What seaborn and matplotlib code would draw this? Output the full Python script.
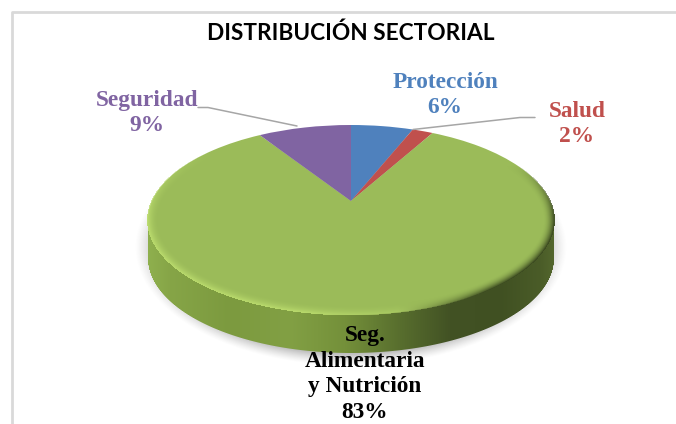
import numpy as np
import seaborn as sns
import matplotlib.pyplot as plt
from matplotlib.transforms import Transform

sectors = ['Protección', 'Salud', 'Seg. Alimentaria y Nutrición', 'Seguridad']
shares = [6, 2, 83, 9]
colors = ['#4f81bd', '#c0504d', '#9bbb59', '#8064a2']

sns.set_theme(style='white')

W, H = 676, 424
# apex of the slices, and the perspective of the tilted disc
ax0, ay0 = 351, 201
a, b, k = 199.0, 91.2, 0.2
depth = 38
rx = a / np.sqrt(1 - k ** 2)
ry = b / (1 - k ** 2)
cx, cy = ax0, ay0 + b * k / (1 - k ** 2)


class Tilt(Transform):
    input_dims = 2
    output_dims = 2

    def transform_non_affine(self, values):
        x, y = values[:, 0], values[:, 1]
        w = 1 + k * y
        return np.column_stack([ax0 + a * x / w, ay0 - b * y / w])


fig = plt.figure(figsize=(W / 100, H / 100), dpi=100)
ax = fig.add_axes([0, 0, 1, 1])

wedges, _ = ax.pie(shares, colors=colors, startangle=90, counterclock=False,
                   wedgeprops={'linewidth': 0})
tilt = Tilt()
for wedge in wedges:
    wedge.set_transform(tilt + ax.transData)
    wedge.set_zorder(3)

ax.set_aspect('auto')
ax.axis('off')

# pixel grid for the shading
px, py = np.meshgrid(np.arange(W) + 0.5, np.arange(H) + 0.5)
extent = (0, W, H, 0)

# soft shadow under the disc
rs = np.sqrt(((px - cx) / (rx + 13)) ** 2 + ((py - cy - 27) / (ry + 24)) ** 2)
shadow = np.zeros((H, W, 4))
shadow[..., :3] = 0.55
shadow[..., 3] = np.clip((1 - rs) / 0.1, 0, 1) ** 1.3 * 0.55
ax.imshow(shadow, extent=extent, zorder=1, interpolation='bilinear', aspect='auto')

# side wall, shaded left to right
stops_x = [148, 170, 230, 290, 345, 400, 450, 500, 540, 556]
stops_c = np.array([[0x8f, 0xb0, 0x4e], [0x86, 0xa5, 0x47], [0x7c, 0x9a, 0x3f],
                    [0x82, 0xa0, 0x44], [0x74, 0x90, 0x3a], [0x58, 0x6e, 0x2e],
                    [0x42, 0x52, 0x24], [0x40, 0x50, 0x22], [0x4a, 0x5c, 0x28],
                    [0x55, 0x68, 0x2e]]) / 255
dx = (px - cx) / rx
ye = ry * np.sqrt(np.clip(1 - dx ** 2, 0, 1))
side_a = np.clip(cy + depth + ye - py + 0.5, 0, 1) * np.clip(py - cy + 0.5, 0, 1) * (np.abs(dx) < 1)
side = np.zeros((H, W, 4))
for c in range(3):
    side[..., c] = np.interp(px, stops_x, stops_c[:, c])
side[..., 3] = side_a
ax.imshow(side, extent=extent, zorder=2, interpolation='bilinear', aspect='auto')

# bevel on the rim of the top face: light on the left and front, dark to the right
r = np.sqrt(((px - cx) / rx) ** 2 + ((py - cy) / ry) ** 2) + 1e-6
r_in = np.sqrt(((px - cx) / (rx - 11)) ** 2 + ((py - cy) / (ry - 10)) ** 2)
rim = np.clip((r_in - 1) / np.maximum(r_in / r - 1, 1e-6), 0, 1) * (r < 1.004)
edge = (px - cx) / rx
light = np.clip(0.75 - edge * 1.2, 0, 1) * np.clip((py - 150) / 70, 0, 1)
dark = np.clip(edge * 2.2 - 0.5, 0, 1) * np.clip((py - 165) / 50, 0, 1)
mix = (light / (light + dark + 1e-6))[..., None]
bevel = np.zeros((H, W, 4))
bevel[..., :3] = mix * np.array([0.73, 0.86, 0.43]) + (1 - mix) * np.array([0.24, 0.30, 0.13])
bevel[..., 3] = rim ** 2 * np.clip(light + dark, 0, 1) * 0.95
ax.imshow(bevel, extent=extent, zorder=4, interpolation='bilinear', aspect='auto')
ax.set_xlim(0, W)
ax.set_ylim(H, 0)

# chart frame
ax.plot([12, 12, W], [H, 12, 12], color='#d9d9d9', lw=2, zorder=0)

# leader lines
ax.plot([198, 208, 297], [107.5, 107.5, 126], color='#a6a6a6', lw=1.1, zorder=5)
ax.plot([413, 520, 535], [129.5, 117.5, 117.5], color='#a6a6a6', lw=1.1, zorder=5)

ax.text(351, 33, 'DISTRIBUCIÓN SECTORIAL', family='Lato', weight='bold', fontsize=16.3,
        color='black', ha='center', va='center')

lab = {'family': 'Liberation Serif', 'weight': 'bold', 'fontsize': 16.8, 'ha': 'center',
       'va': 'center', 'zorder': 6, 'linespacing': 1.28}
ax.text(445, 95, f'{sectors[0]}\n{shares[0]}%', color=colors[0], **lab)
ax.text(577, 124, f'{sectors[1]}\n{shares[1]}%', color=colors[1], **lab)
ax.text(147, 113, f'{sectors[3]}\n{shares[3]}%', color=colors[3], **lab)
ax.text(365, 374, f'Seg.\nAlimentaria\ny Nutrición\n{shares[2]}%', color='black', **lab)

fig.savefig('out.png', dpi=100)
